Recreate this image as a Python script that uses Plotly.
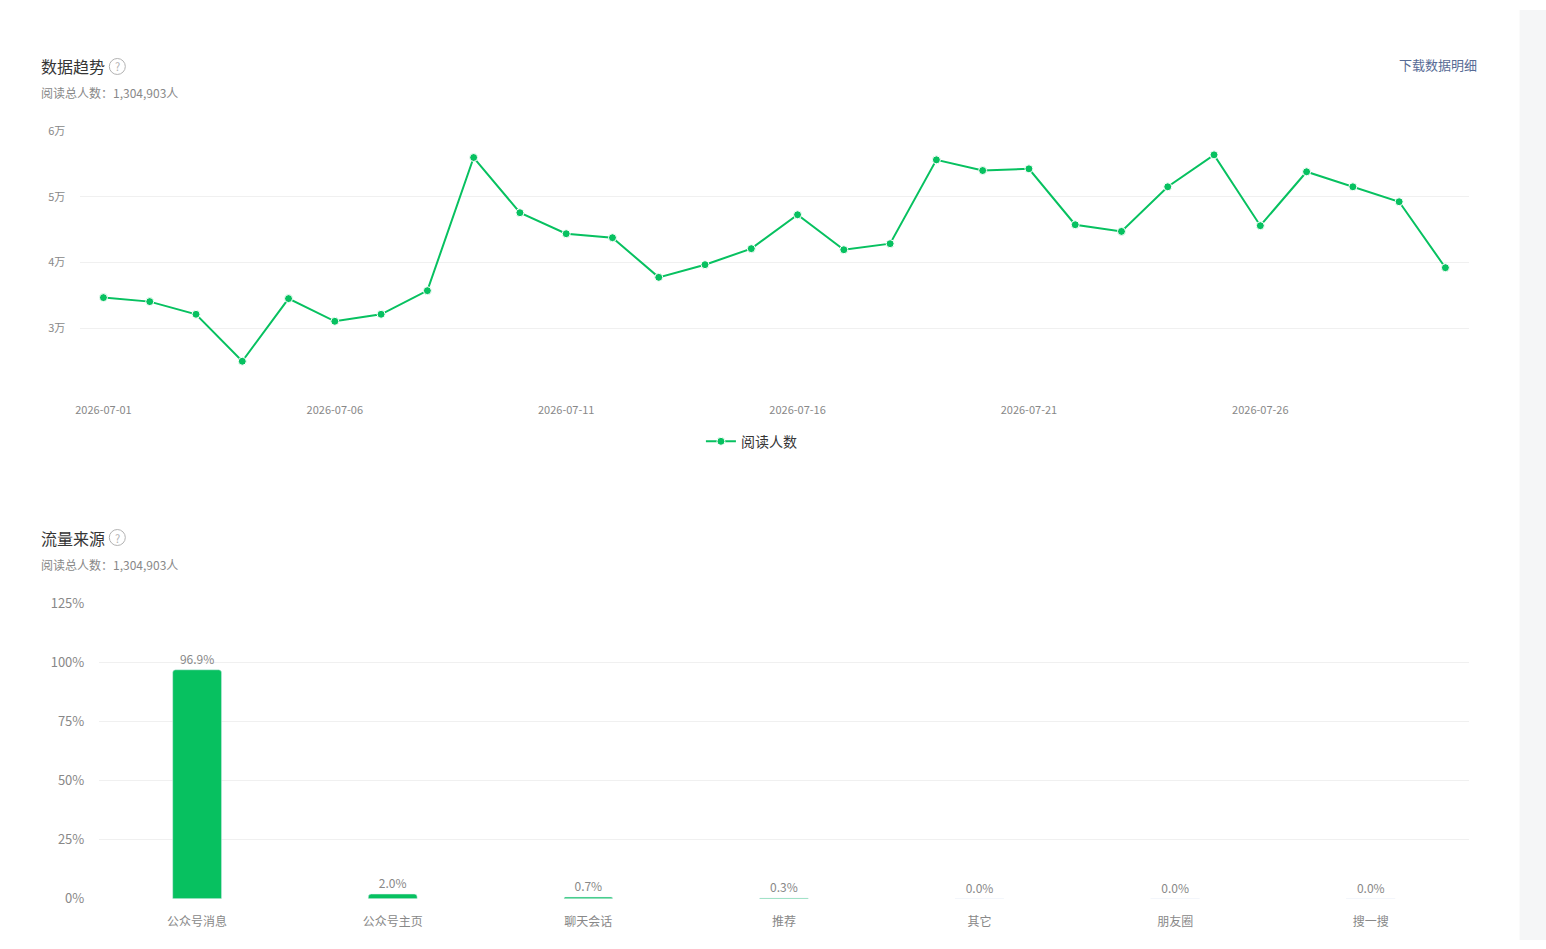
import plotly.graph_objects as go

# ==========================================================
# Data
# ==========================================================
dates = ["2026-07-%02d" % d for d in range(1, 31)]
readers = [
    34660, 34050, 32120, 24960, 34510, 31050, 32120, 35720, 56010, 47600,
    44400, 43790, 37750, 39680, 42120, 47290, 41960, 42880, 55660, 54030,
    54290, 45770, 44750, 51550, 56420, 45620, 53840, 51550, 49270, 39220,
]
y_tick_vals = [20000, 30000, 40000, 50000, 60000]
y_tick_text = ["", "3万", "4万", "5万", "6万"]

sources = ["公众号消息", "公众号主页", "聊天会话", "推荐", "其它", "朋友圈", "搜一搜"]
source_pct = [96.9, 2.0, 0.7, 0.3, 0.0, 0.0, 0.0]
pct_ticks = [0, 25, 50, 75, 100, 125]
pct_tick_text = ["0%", "25%", "50%", "75%", "100%", "125%"]

total_text = "阅读总人数：1,304,903人"

GREEN = "#07c160"
SIDE = "#f5f6f7"
FONT = "Noto Sans CJK SC, Noto Sans, sans-serif"
W, H = 1546, 949

# the page photo comes out slightly shrunk and shifted, so undo that here
SX, OX = 0.9966, 4.7
SY, OY = 0.982, 8.4


def px_x(x):
    return ((x - OX) / SX) / W


def px_y(y):
    return 1 - ((y - OY) / SY) / H


fig = go.Figure()

# ==========================================================
# Trend line
# ==========================================================
fig.add_trace(go.Scatter(
    x=dates,
    y=readers,
    mode="lines+markers",
    name="阅读人数",
    line=dict(color=GREEN, width=2),
    marker=dict(color=GREEN, size=8, line=dict(color="white", width=1)),
    xaxis="x",
    yaxis="y",
    hoverinfo="x+y",
))

# ==========================================================
# Traffic source bars
# ==========================================================
fig.add_trace(go.Bar(
    x=sources,
    y=source_pct,
    text=["%.1f%%" % v for v in source_pct],
    textposition="outside",
    textfont=dict(size=12, color="#888888"),
    cliponaxis=False,
    marker=dict(color=GREEN),
    width=0.25,
    showlegend=False,
    xaxis="x2",
    yaxis="y2",
))

fig.update_layout(
    autosize=True,
    margin=dict(l=0, r=0, t=0, b=0),
    paper_bgcolor="white",
    plot_bgcolor="white",
    font=dict(family=FONT, color="#888888"),
    barcornerradius=3,
    xaxis=dict(
        domain=[px_x(80), px_x(1468)],
        type="category",
        range=[-0.5, len(dates) - 0.5],
        tickmode="array",
        tickvals=dates[::5],
        ticks="",
        ticklabelstandoff=8,
        tickfont=dict(size=11, color="#888888"),
        showgrid=False,
        showline=False,
        zeroline=False,
        fixedrange=True,
    ),
    yaxis=dict(
        domain=[px_y(393), px_y(130)],
        range=[20000, 60000],
        tickmode="array",
        tickvals=y_tick_vals,
        ticktext=y_tick_text,
        ticks="",
        ticklabelstandoff=14,
        tickfont=dict(size=11, color="#888888"),
        gridcolor="#f0f0f0",
        gridwidth=1,
        zeroline=False,
        showline=False,
        fixedrange=True,
    ),
    xaxis2=dict(
        domain=[px_x(99), px_x(1468)],
        anchor="y2",
        ticks="",
        ticklabelstandoff=14,
        tickfont=dict(size=12, color="#888888"),
        showgrid=False,
        showline=False,
        zeroline=False,
        fixedrange=True,
    ),
    yaxis2=dict(
        domain=[px_y(899), px_y(603)],
        anchor="x2",
        range=[0, 125],
        tickmode="array",
        tickvals=pct_ticks,
        ticktext=pct_tick_text,
        ticks="",
        ticklabelstandoff=14,
        tickfont=dict(size=13, color="#888888"),
        gridcolor="#f0f0f0",
        gridwidth=1,
        zeroline=False,
        showline=False,
        fixedrange=True,
    ),
    showlegend=True,
    legend=dict(
        orientation="h",
        x=px_x(751),
        y=px_y(441),
        xanchor="center",
        yanchor="middle",
        font=dict(size=14, color="#353535"),
    ),
)


# ==========================================================
# Headers, icons, side strip
# ==========================================================
def header(y_title, y_sub, title):
    fig.add_annotation(
        x=px_x(39), y=px_y(y_title), xref="paper", yref="paper",
        text=title, showarrow=False, xanchor="left", yanchor="middle",
        font=dict(size=16, color="#353535"),
    )
    fig.add_annotation(
        x=px_x(39), y=px_y(y_sub), xref="paper", yref="paper",
        text=total_text, showarrow=False, xanchor="left", yanchor="middle",
        font=dict(size=12, color="#888888"),
    )
    fig.add_shape(
        type="circle", xref="paper", yref="paper",
        x0=px_x(109), x1=px_x(125), y0=px_y(y_title + 8), y1=px_y(y_title - 8),
        line=dict(color="#b2b2b2", width=1), fillcolor="white",
    )
    fig.add_annotation(
        x=px_x(117), y=px_y(y_title), xref="paper", yref="paper",
        text="?", showarrow=False, xanchor="center", yanchor="middle",
        font=dict(size=11, color="#b2b2b2"),
    )


header(65, 91, "数据趋势")
header(537, 564, "流量来源")

fig.add_annotation(
    x=px_x(1478), y=px_y(63), xref="paper", yref="paper",
    text="下载数据明细", showarrow=False, xanchor="right", yanchor="middle",
    font=dict(size=13, color="#576b95"),
)

fig.add_shape(
    type="rect", xref="paper", yref="paper",
    x0=px_x(1519), x1=1, y0=0, y1=1,
    line=dict(width=0), fillcolor=SIDE, layer="below",
)

page_fix = (
    "document.documentElement.style.margin='0';"
    "document.documentElement.style.background="
    "'linear-gradient(to right, white 1517px, " + SIDE + " 1517px)';"
    "document.body.style.margin='0';"
    "document.body.style.overflow='hidden';"
    "Plotly.Plots.resize(document.getElementById('{plot_id}'));"
)

fig.write_html(
    "out.html",
    config={"displayModeBar": False, "responsive": True},
    default_width="100vw",
    default_height="100vh",
    post_script=page_fix,
)
